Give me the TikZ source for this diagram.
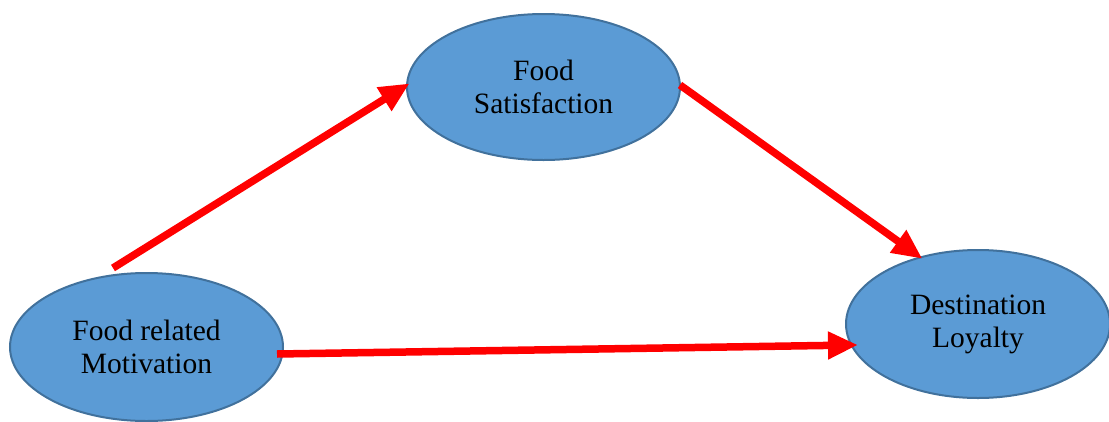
\documentclass[tikz,border=0pt]{standalone}
\usepackage{fontspec}
\setmainfont{Liberation Serif}
\usetikzlibrary{shapes.geometric,arrows.meta}
\definecolor{efill}{HTML}{5B9BD5}
\definecolor{edraw}{HTML}{41719C}
\definecolor{arr}{HTML}{FF0000}
\tikzset{
  oval/.style={ellipse, fill=efill, draw=edraw, line width=2pt, inner sep=0pt,
    align=center, font=\fontsize{29.5}{33}\selectfont, text=black},
  link/.style={draw=arr, line width=7.5pt, shorten >=-3pt, -{Triangle[length=30pt,width=26pt]}}
}
\begin{document}
\begin{tikzpicture}[x=1pt,y=-1pt]
\useasboundingbox (0,0) rectangle (1109,421);
\node[oval, minimum width=273pt, minimum height=146pt] (fs) at (543.5,87) {Food\\Satisfaction};
\node[oval, minimum width=273pt, minimum height=148pt] (fm) at (146.5,347) {Food related\\Motivation};
\node[oval, minimum width=264pt, minimum height=148pt] (dl) at (978,324) {Destination\\Loyalty};
\coordinate (s1) at (113,268);
\coordinate (s2) at (680,85);
\coordinate (s3) at (277,354);
\coordinate (t1) at (407,85);
\coordinate (t2) at (920,257);
\coordinate (t3) at (855,345);
\draw[link] (s1) -- (t1);
\draw[link] (s2) -- (t2);
\draw[link] (s3) -- (t3);
\end{tikzpicture}
\end{document}
